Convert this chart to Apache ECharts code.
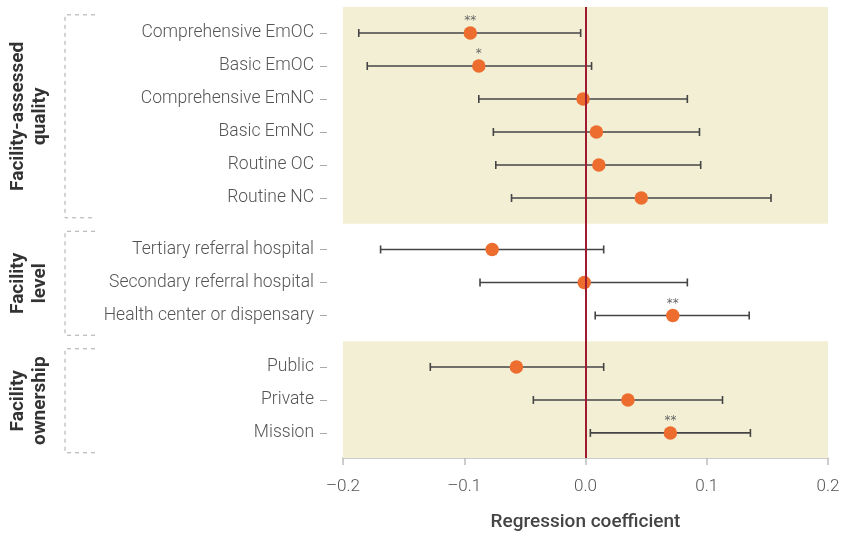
<!DOCTYPE html>
<html><head><meta charset="utf-8">
<script src="https://cdn.jsdelivr.net/npm/echarts@6/dist/echarts.min.js"></script>
<style>html,body{margin:0;padding:0;background:#fff}#c{width:857px;height:533px}</style>
</head><body><div id="c"></div>
<script>
// ---- data ----
const groupNames = ['Facility-assessed\nquality', 'Facility\nlevel', 'Facility\nownership'];

const qualityLabels = ['Comprehensive EmOC', 'Basic EmOC', 'Comprehensive EmNC', 'Basic EmNC', 'Routine OC', 'Routine NC'];
const qualityCoef = [-0.095, -0.088, -0.002, 0.009, 0.011, 0.046];
const qualityLow  = [-0.187, -0.180, -0.088, -0.076, -0.074, -0.061];
const qualityHigh = [-0.004, 0.005, 0.084, 0.094, 0.095, 0.153];
const qualitySig  = ['**', '*', '', '', '', ''];

const levelLabels = ['Tertiary referral hospital', 'Secondary referral hospital', 'Health center or dispensary'];
const levelCoef = [-0.077, -0.001, 0.072];
const levelLow  = [-0.169, -0.087, 0.008];
const levelHigh = [0.015, 0.084, 0.135];
const levelSig  = ['', '', '**'];

const ownershipLabels = ['Public', 'Private', 'Mission'];
const ownershipCoef = [-0.057, 0.035, 0.070];
const ownershipLow  = [-0.128, -0.043, 0.004];
const ownershipHigh = [0.015, 0.113, 0.136];
const ownershipSig  = ['', '', '**'];

const xTicks = [-0.2, -0.1, 0.0, 0.1, 0.2];

// ---- build rows ----
const groups = [
  {labels: qualityLabels, coef: qualityCoef, low: qualityLow, high: qualityHigh, sig: qualitySig, shaded: true},
  {labels: levelLabels, coef: levelCoef, low: levelLow, high: levelHigh, sig: levelSig, shaded: false},
  {labels: ownershipLabels, coef: ownershipCoef, low: ownershipLow, high: ownershipHigh, sig: ownershipSig, shaded: true}
];
const GROUP_GAP = 1.56;
const Y_MIN = -0.788, Y_MAX = 12.88;
const rows = [];
const groupSpans = [];
let pos = 0;
groups.forEach((g, gi) => {
  const start = pos;
  g.labels.forEach((lab, i) => {
    rows.push({pos: pos, label: lab, coef: g.coef[i], low: g.low[i], high: g.high[i], sig: g.sig[i]});
    pos += 1;
  });
  groupSpans.push({start: start, end: pos - 1});
  pos += GROUP_GAP - 1;
});
const posList = rows.map(r => r.pos);
const labelMap = {};
rows.forEach(r => { labelMap[r.pos.toFixed(3)] = r.label; });

// shaded bands
const bands = [];
groups.forEach((g, gi) => {
  if (!g.shaded) return;
  const s = groupSpans[gi];
  const a = gi === 0 ? Y_MIN : (groupSpans[gi - 1].end + s.start) / 2;
  const b = gi === groups.length - 1 ? Y_MAX : (s.end + groupSpans[gi + 1].start) / 2;
  bands.push([{yAxis: a}, {yAxis: b}]);
});

const chart = echarts.init(document.getElementById('c'));
const FONT = 'Roboto';

const option = {
  animation: false,
  grid: {left: 343, right: 29, top: 7, bottom: 75, containLabel: false, outerBoundsMode: 'none'},
  xAxis: {
    type: 'value', min: -0.2, max: 0.2, interval: 0.1,
    axisLine: {show: true, onZero: false, lineStyle: {color: '#bdbdbd', width: 1.5}},
    axisTick: {show: true, length: 7, lineStyle: {color: '#bdbdbd', width: 1.5}},
    splitLine: {show: false},
    axisLabel: {fontFamily: FONT, fontSize: 17, color: '#555', fontWeight: 300, margin: 20,
      formatter: v => (v < 0 ? '\u2013' : '') + Math.abs(v).toFixed(1)},
    name: 'Regression coefficient', nameLocation: 'middle', nameGap: 55,
    nameTextStyle: {fontFamily: FONT, fontSize: 19, color: '#444', fontWeight: 500}
  },
  yAxis: {
    type: 'value', inverse: true, min: Y_MIN, max: Y_MAX, offset: 16,
    axisLine: {show: false, onZero: false},
    splitLine: {show: false},
    axisTick: {show: true, length: 7, customValues: posList, lineStyle: {color: '#aaa', width: 1}},
    axisLabel: {customValues: posList, margin: 13, fontFamily: FONT, fontSize: 17.5, fontWeight: 300, color: '#555',
      formatter: v => labelMap[Number(v).toFixed(3)] || ''}
  },
  series: [
    {type: 'line', data: [], z: 1, silent: true,
      markArea: {silent: true, itemStyle: {color: '#f3efd5'}, data: bands}},
    {type: 'custom', z: 2, silent: true,
      data: rows.map(r => [r.low, r.high, r.pos]),
      renderItem: (params, api) => {
        const p1 = api.coord([api.value(0), api.value(2)]);
        const p2 = api.coord([api.value(1), api.value(2)]);
        const h = 4;
        const st = {stroke: '#444', lineWidth: 1.6};
        return {type: 'group', children: [
          {type: 'line', shape: {x1: p1[0], y1: p1[1], x2: p2[0], y2: p2[1]}, style: st},
          {type: 'line', shape: {x1: p1[0], y1: p1[1] - h, x2: p1[0], y2: p1[1] + h}, style: st},
          {type: 'line', shape: {x1: p2[0], y1: p2[1] - h, x2: p2[0], y2: p2[1] + h}, style: st}
        ]};
      }},
    {type: 'line', data: [], z: 3, silent: true,
      markLine: {silent: true, symbol: 'none', label: {show: false},
        lineStyle: {color: '#9e1b32', width: 2, type: 'solid'}, data: [{xAxis: 0}]}},
    {type: 'scatter', z: 4, symbolSize: 13.5,
      itemStyle: {color: '#ec6d2d', opacity: 1},
      data: rows.map(r => ({value: [r.coef, r.pos], sig: r.sig})),
      label: {show: true, position: 'top', distance: -1, fontFamily: 'DejaVu Sans', fontSize: 12, color: '#666',
        formatter: p => p.data.sig}}
  ]
};
chart.setOption(option);

// brackets and group titles
const graphics = [];
groupSpans.forEach((s, gi) => {
  const top = chart.convertToPixel({gridIndex: 0}, [0, s.start - 0.55])[1];
  const bot = chart.convertToPixel({gridIndex: 0}, [0, s.end + 0.6])[1];
  const xL = 65, xR = 95;
  graphics.push({type: 'polyline', silent: true,
    shape: {points: [[xR, top], [xL, top], [xL, bot], [xR, bot]]},
    style: {stroke: '#aaa', lineWidth: 1, fill: null, lineDash: [4, 4]}});
  const mid = (top + bot) / 2;
  graphics.push({type: 'text', silent: true, x: 29, y: mid, rotation: Math.PI / 2,
    style: {text: groupNames[gi], fontFamily: FONT, fontSize: 19, fontWeight: 'bold', fill: '#333',
      align: 'center', verticalAlign: 'middle', lineHeight: 22}});
});
chart.setOption({graphic: graphics});
</script></body></html>
